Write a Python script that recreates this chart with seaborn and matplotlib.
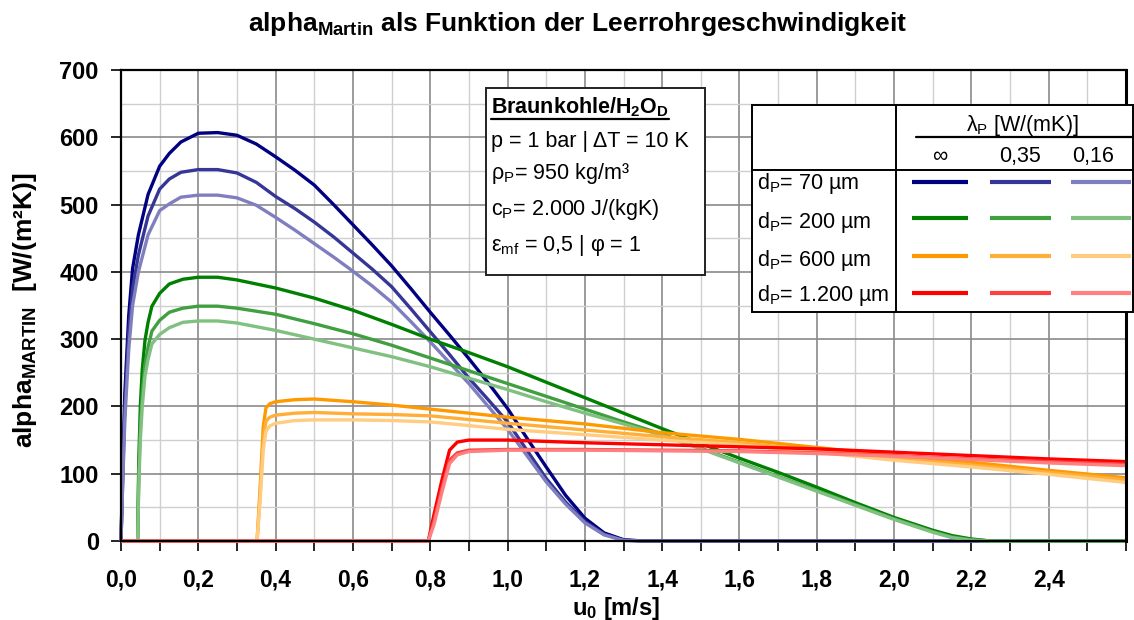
import numpy as np
import pandas as pd
import matplotlib
matplotlib.use("Agg")
import matplotlib.pyplot as plt
import seaborn as sns
from matplotlib.patches import Rectangle
from matplotlib.lines import Line2D
from matplotlib.ticker import MultipleLocator

# ---------------- data ----------------
u_70 = [0.0, 0.005, 0.01, 0.02, 0.03, 0.045, 0.07, 0.1, 0.125, 0.155, 0.2, 0.25, 0.3, 0.35,
        0.4, 0.45, 0.5, 0.55, 0.6, 0.65, 0.7, 0.75, 0.8, 0.85, 0.9, 0.95, 1.0, 1.05, 1.1,
        1.15, 1.2, 1.25, 1.3, 1.35, 2.6]
a_70_inf = [0, 120, 220, 335, 405, 455, 515, 557, 576, 593, 606, 607, 603, 590,
            571, 551, 529, 500, 470, 440, 409, 375, 340, 306, 271, 235, 197, 153, 110,
            68, 34, 12, 2, 0, 0]
a_70_035 = [0, 105, 200, 310, 375, 425, 483, 523, 538, 548, 552, 552, 547, 533,
            512, 494, 474, 452, 428, 404, 378, 345, 311, 277, 242, 210, 177, 135, 93,
            58, 29, 10, 1, 0, 0]
a_70_016 = [0, 95, 180, 285, 350, 400, 455, 491, 501, 511, 514, 514, 510, 499,
            481, 462, 442, 422, 401, 379, 355, 326, 296, 265, 234, 200, 166, 127, 88,
            55, 27, 9, 1, 0, 0]

u_200 = [0.0, 0.043, 0.046, 0.05, 0.055, 0.062, 0.07, 0.08, 0.1, 0.125, 0.16, 0.2, 0.25,
         0.3, 0.4, 0.5, 0.6, 0.7, 0.8, 0.9, 1.0, 1.1, 1.2, 1.3, 1.4, 1.5, 1.6, 1.7, 1.8,
         1.9, 2.0, 2.1, 2.15, 2.2, 2.25, 2.6]
a_200_inf = [0, 0, 120, 200, 255, 298, 325, 349, 368, 382, 389, 392, 392,
             388, 376, 361, 343, 322, 300, 280, 259, 236, 213, 190, 167, 145, 123, 102, 80,
             57, 35, 16, 8, 3, 0, 0]
a_200_035 = [0, 0, 100, 170, 220, 262, 288, 312, 328, 340, 346, 349, 349,
             346, 337, 323, 308, 291, 272, 253, 234, 215, 196, 177, 159, 138, 117, 96, 75,
             54, 33, 14, 6, 2, 0, 0]
a_200_016 = [0, 0, 80, 150, 200, 245, 270, 293, 307, 317, 325, 327, 327,
             324, 313, 300, 287, 274, 259, 242, 225, 207, 190, 174, 157, 137, 116, 95, 74,
             53, 32, 13, 5, 1, 0, 0]

u_600 = [0.0, 0.352, 0.36, 0.368, 0.375, 0.385, 0.4, 0.45, 0.5, 0.6, 0.7, 0.8, 1.0, 1.2,
         1.4, 1.6, 1.8, 2.0, 2.2, 2.4, 2.6]
a_600_inf = [0, 0, 80, 170, 198, 204, 207, 210, 211, 207, 202, 196, 184, 174,
             161, 151, 139, 127, 117, 105, 94]
a_600_035 = [0, 0, 70, 150, 178, 184, 187, 190, 191, 189, 188, 186, 175, 165,
             155, 146, 135, 123, 113, 102, 91]
a_600_016 = [0, 0, 60, 135, 163, 171, 175, 179, 180, 180, 179, 177, 166, 158,
             150, 143, 132, 120, 110, 99, 87]

u_1200 = [0.0, 0.795, 0.81, 0.83, 0.85, 0.87, 0.9, 1.0, 1.2, 1.4, 1.6, 1.8, 2.0, 2.2, 2.4, 2.6]
a_1200_inf = [0, 0, 40, 90, 135, 147, 150, 150, 146, 143, 140, 137, 132, 127, 122, 118]
a_1200_035 = [0, 0, 30, 78, 120, 131, 135, 136, 136, 135, 134, 131, 127, 122, 118, 114]
a_1200_016 = [0, 0, 25, 72, 115, 128, 133, 135, 135, 134, 133, 130, 126, 121, 116, 112]

sizes = ["70 µm", "200 µm", "600 µm", "1.200 µm"]
lambdas = ["∞", "0,35", "0,16"]
size_u = {"70 µm": u_70, "200 µm": u_200, "600 µm": u_600, "1.200 µm": u_1200}
size_alpha = {
    "70 µm": [a_70_inf, a_70_035, a_70_016],
    "200 µm": [a_200_inf, a_200_035, a_200_016],
    "600 µm": [a_600_inf, a_600_035, a_600_016],
    "1.200 µm": [a_1200_inf, a_1200_035, a_1200_016],
}
colors = {
    "70 µm": ["#000080", "#363696", "#7f7fbf"],
    "200 µm": ["#008000", "#40a040", "#80c080"],
    "600 µm": ["#ff9900", "#ffae38", "#ffcc80"],
    "1.200 µm": ["#ff0000", "#ff4040", "#ff8080"],
}

x_ticks = [0.0, 0.2, 0.4, 0.6, 0.8, 1.0, 1.2, 1.4, 1.6, 1.8, 2.0, 2.2, 2.4]
x_tick_labels = ["0,0", "0,2", "0,4", "0,6", "0,8", "1,0", "1,2", "1,4", "1,6", "1,8",
                 "2,0", "2,2", "2,4"]
y_ticks = [0, 100, 200, 300, 400, 500, 600, 700]
y_tick_labels = ["0", "100", "200", "300", "400", "500", "600", "700"]

title_text = "alpha$_{Martin}$ als Funktion der Leerrohrgeschwindigkeit"
ylabel_text = "alpha$_{MARTIN}$  [W/(m²K)]"
xlabel_text = "u$_0$ [m/s]"
box_title = "Braunkohle/H$_2$O$_D$"
box_lines = ["p = 1 bar | ΔT = 10 K", "ρ$_P$= 950 kg/m³", "c$_P$= 2.000 J/(kgK)",
             "ε$_{mf}$ = 0,5 | φ = 1"]
legend_header = "λ$_P$ [W/(mK)]"

# ---------------- long table ----------------
rows = []
order = []
palette = {}
for s in sizes:
    for li, lam in enumerate(lambdas):
        key = f"{s} | {lam}"
        order.append(key)
        palette[key] = colors[s][li]
        for u, a in zip(size_u[s], size_alpha[s][li]):
            rows.append((key, u, a))
df = pd.DataFrame(rows, columns=["serie", "u", "alpha"])

# ---------------- style ----------------
sns.set_theme(style="white")
plt.rcParams['font.family'] = ['Liberation Sans', 'DejaVu Sans']
plt.rcParams['mathtext.default'] = 'regular'
plt.rcParams['text.color'] = 'black'
plt.rcParams['xtick.color'] = 'black'
plt.rcParams['ytick.color'] = 'black'
plt.rcParams['axes.labelcolor'] = 'black'

W, H = 1134, 620
fig = plt.figure(figsize=(W / 100, H / 100), dpi=100)
fig.patch.set_facecolor("white")
ax = fig.add_axes([121 / W, 1 - 541 / H, (1126 - 121) / W, (541 - 70) / H])
ax.set_facecolor("white")

sns.lineplot(data=df, x="u", y="alpha", hue="serie", hue_order=order, palette=palette,
             estimator=None, sort=False, legend=False, linewidth=2.4, ax=ax)
for ln in ax.lines:
    ln.set_clip_on(False)
    ln.set_solid_capstyle("butt")
    ln.set_solid_joinstyle("round")

ax.set_xlim(0, 2.6)
ax.set_ylim(0, 700)
ax.set_xticks(x_ticks)
ax.set_xticklabels(x_tick_labels, fontweight="bold", fontsize=16.5, color="black")
ax.set_yticks(y_ticks)
ax.set_yticklabels(y_tick_labels, fontweight="bold", fontsize=17, color="black")
ax.xaxis.set_minor_locator(MultipleLocator(0.1))
ax.yaxis.set_minor_locator(MultipleLocator(50))
ax.set_axisbelow(True)
ax.grid(which="major", color="#8a8a8a", linewidth=1.2)
ax.grid(which="minor", color="#cfcfcf", linewidth=1.0)
ax.tick_params(axis="x", which="both", bottom=True, direction="out", length=7, width=1.2,
               color="black")
ax.tick_params(axis="x", which="major", pad=13)
ax.tick_params(axis="y", which="major", left=True, direction="out", length=7, width=1.2,
               color="black", pad=9)
ax.tick_params(axis="y", which="minor", left=False, length=0)
for sp in ax.spines.values():
    sp.set_visible(True)
    sp.set_color("black")
    sp.set_linewidth(1.6)
ax.spines["right"].set_linewidth(2.2)
ax.set_xlabel("")
ax.set_ylabel("")

def fx(px):
    return px / W

def fy(py):
    return 1 - py / H

# titles / labels
fig.text(fx(577), fy(24), title_text, ha="center", va="center", fontsize=19,
         fontweight="bold", color="black")
fig.text(fx(25), fy(310), ylabel_text, ha="center", va="center", rotation=90,
         fontsize=19, fontweight="bold", color="black")
fig.text(fx(616), fy(615), xlabel_text, ha="center", va="baseline", fontsize=17,
         fontweight="bold", color="black")

# ---------------- info box ----------------
fig.add_artist(Rectangle((fx(486), fy(275)), fx(705) - fx(486), fy(88) - fy(275),
                         transform=fig.transFigure, facecolor="white", edgecolor="#222222",
                         linewidth=1.4, zorder=5))
bt = fig.text(fx(491), fy(107), box_title, ha="left", va="center", fontsize=15.5,
              fontweight="bold", zorder=6, color="black")
for txt, py in zip(box_lines, [141, 174, 209, 245]):
    fig.text(fx(491), fy(py), txt, ha="left", va="center", fontsize=15.5, zorder=6,
             color="black")

# ---------------- legend table ----------------
fig.add_artist(Rectangle((fx(752), fy(312)), fx(1133) - fx(752), fy(105) - fy(312),
                         transform=fig.transFigure, facecolor="white", edgecolor="black",
                         linewidth=1.4, zorder=5))
fig.add_artist(Line2D([fx(896), fx(896)], [fy(105), fy(312)], transform=fig.transFigure,
                      color="black", linewidth=1.4, zorder=6))
fig.add_artist(Line2D([fx(752), fx(1133)], [fy(170), fy(170)], transform=fig.transFigure,
                      color="black", linewidth=1.4, zorder=6))
fig.add_artist(Line2D([fx(916), fx(1133)], [fy(137), fy(137)], transform=fig.transFigure,
                      color="black", linewidth=1.6, zorder=6))
fig.text(fx(1022), fy(126), legend_header, ha="center", va="center", fontsize=15.5, zorder=6,
         color="black")
col_x = [940, 1020, 1093]
for lam, cx in zip(lambdas, col_x):
    fig.text(fx(cx), fy(157), lam, ha="center", va="center", fontsize=15.5, zorder=6,
             color="black")
row_text_y = [183, 222, 261, 296]
row_line_y = [182, 218, 256, 293]
seg_x = [(912, 968), (990, 1051), (1071, 1131)]
for s, ty, ly in zip(sizes, row_text_y, row_line_y):
    fig.text(fx(757), fy(ty), f"d$_P$= {s}", ha="left", va="center", fontsize=15.5, zorder=6,
             color="black")
    for (x0, x1), c in zip(seg_x, colors[s]):
        fig.add_artist(Line2D([fx(x0), fx(x1)], [fy(ly), fy(ly)], transform=fig.transFigure,
                              color=c, linewidth=3.0, solid_capstyle="butt", zorder=6))

# underline for box title
fig.canvas.draw()
bb = bt.get_window_extent().transformed(fig.transFigure.inverted())
fig.add_artist(Line2D([bb.x0, bb.x1], [fy(119), fy(119)], transform=fig.transFigure,
                      color="black", linewidth=1.6, zorder=6))

fig.savefig("out.png", dpi=100, facecolor="white")
